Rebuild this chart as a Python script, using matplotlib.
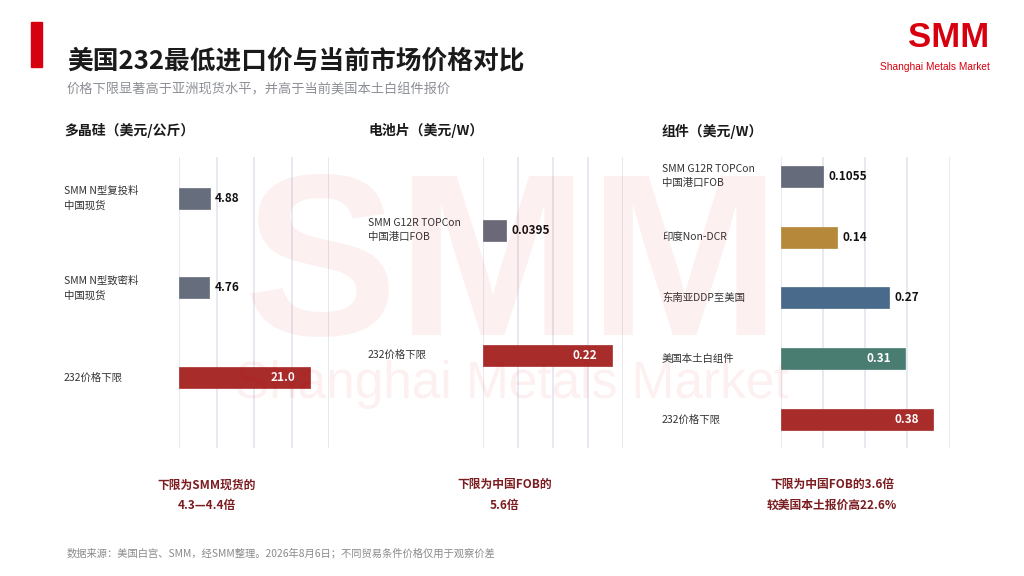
import matplotlib
matplotlib.use('Agg')
import matplotlib.pyplot as plt
from matplotlib.transforms import blended_transform_factory

plt.rcParams['font.family'] = ['Noto Sans CJK SC', 'DejaVu Sans']

# data
poly_labels = ['SMM N型复投料\n中国现货', 'SMM N型致密料\n中国现货', '232价格下限']
poly_values = [4.88, 4.76, 21.0]
poly_texts = ['4.88', '4.76', '21.0']
poly_ticks = [0, 6, 12, 18, 24]

cell_labels = ['SMM G12R TOPCon\n中国港口FOB', '232价格下限']
cell_values = [0.0395, 0.22]
cell_texts = ['0.0395', '0.22']
cell_ticks = [0, 0.06, 0.12, 0.18, 0.24]

module_labels = ['SMM G12R TOPCon\n中国港口FOB', '印度Non-DCR', '东南亚DDP至美国', '美国本土白组件', '232价格下限']
module_values = [0.1055, 0.14, 0.27, 0.31, 0.38]
module_texts = ['0.1055', '0.14', '0.27', '0.31', '0.38']
module_ticks = [0, 0.105, 0.21, 0.315, 0.42]

panel_titles = ['多晶硅（美元/公斤）', '电池片（美元/W）', '组件（美元/W）']
notes = ['下限为SMM现货的\n4.3—4.4倍', '下限为中国FOB的\n5.6倍', '下限为中国FOB的3.6倍\n较美国本土报价高22.6%']

RED = '#a82c2a'
poly_colors = ['#666d7c', '#666d7c', RED]
cell_colors = ['#6b6878', RED]
module_colors = ['#666b7c', '#b5883a', '#4a6a8c', '#4a7d72', RED]

W, H = 1024, 576
fig = plt.figure(figsize=(W / 100, H / 100), dpi=100)


def px(x, y):
    return x / W, 1 - y / H


# watermark
wx, wy = px(512, 335)
fig.text(wx, wy, 'SMM', fontsize=166, fontweight='bold', family='Liberation Sans',
         color='#d7000f', alpha=0.06, ha='center', va='baseline', zorder=0)
wx, wy = px(512, 398)
fig.text(wx, wy, 'Shanghai Metals Market', fontsize=37, family='Liberation Sans',
         color='#d7000f', alpha=0.06, ha='center', va='baseline', zorder=0)

# header
fig.patches.append(plt.Rectangle(px(31, 67), 11 / W, 44.6 / H, transform=fig.transFigure,
                                 color='#d7000f', zorder=2))
x, y = px(67, 61)
fig.text(x, y, '美国232最低进口价与当前市场价格对比', fontsize=18.5, fontweight='bold',
         color='#1a1a1a', va='center')
x, y = px(67, 90)
fig.text(x, y, '价格下限显著高于亚洲现货水平，并高于当前美国本土白组件报价', fontsize=9.5,
         color='#8c8f96', va='center')

# logo
x, y = px(989, 47)
fig.text(x, y, 'SMM', fontsize=25, fontweight='bold', family='Liberation Sans',
         color='#d7000f', ha='right', va='baseline')
x, y = px(880, 70)
fig.text(x, y, 'Shanghai Metals Market', fontsize=7.3, family='Liberation Sans',
         color='#d7000f', ha='left', va='baseline')

# panels: (labels, values, texts, colors, ticks, axes left/right px, label x, ylim)
panels = [
    (poly_labels, poly_values, poly_texts, poly_colors, poly_ticks, 179, 329, 64, (2.79, -0.464)),
    (cell_labels, cell_values, cell_texts, cell_colors, cell_ticks, 483.3, 623.3, 368, (1.742, -0.586)),
    (module_labels, module_values, module_texts, module_colors, module_ticks, 781, 949.5, 662, (4.47, -0.316)),
]
ax_top, ax_bot = 157, 448
bar_px = 21

for i, (labels, values, texts, colors, ticks, x0, x1, lab_x, ylim) in enumerate(panels):
    ax = fig.add_axes([x0 / W, 1 - ax_bot / H, (x1 - x0) / W, (ax_bot - ax_top) / H])
    ax.set_facecolor('none')
    ax.set_xlim(ticks[0], ticks[-1])
    ax.set_ylim(*ylim)
    bar_h = bar_px * (ylim[0] - ylim[1]) / (ax_bot - ax_top)
    pos = list(range(len(values)))
    ax.barh(pos, values, height=bar_h, color=colors, edgecolor=colors, linewidth=0.5, zorder=3)
    ax.set_xticks(ticks)
    ax.grid(axis='x', color='#e4e4ee', linewidth=1.2, zorder=1)
    ax.tick_params(length=0, labelbottom=False, labelleft=False)
    for s in ax.spines.values():
        s.set_visible(False)

    for p, v, t in zip(pos, values, texts):
        if v / ticks[-1] > 0.7:
            ax.annotate(t, (v, p), xytext=(-10.5, 0), textcoords='offset points',
                        ha='right', va='center', color='white', fontsize=8.5, fontweight='bold', zorder=4)
        else:
            ax.annotate(t, (v, p), xytext=(4, 0), textcoords='offset points',
                        ha='left', va='center', color='#111111', fontsize=8.5, fontweight='bold', zorder=4)

    tr = blended_transform_factory(fig.transFigure, ax.transData)
    for p, lab in zip(pos, labels):
        ax.text(lab_x / W, p, lab, transform=tr, ha='left', va='center', fontsize=7.5,
                color='#333333', linespacing=1.5)

    hx, hy = px(lab_x, 131)
    fig.text(hx, hy, panel_titles[i], fontsize=10, fontweight='bold', color='#1a1a1a', va='center')

# notes under the panels
for nx, note in zip([207, 505, 832], notes):
    x, y = px(nx, 495)
    fig.text(x, y, note, fontsize=8.5, fontweight='bold', color='#7b1c20',
             ha='center', va='center', linespacing=1.75)

x, y = px(67, 553)
fig.text(x, y, '数据来源：美国白宫、SMM，经SMM整理。2026年8月6日；不同贸易条件价格仅用于观察价差',
         fontsize=7.4, color='#8a8a8a', va='center')

plt.savefig('out.png', dpi=100)
